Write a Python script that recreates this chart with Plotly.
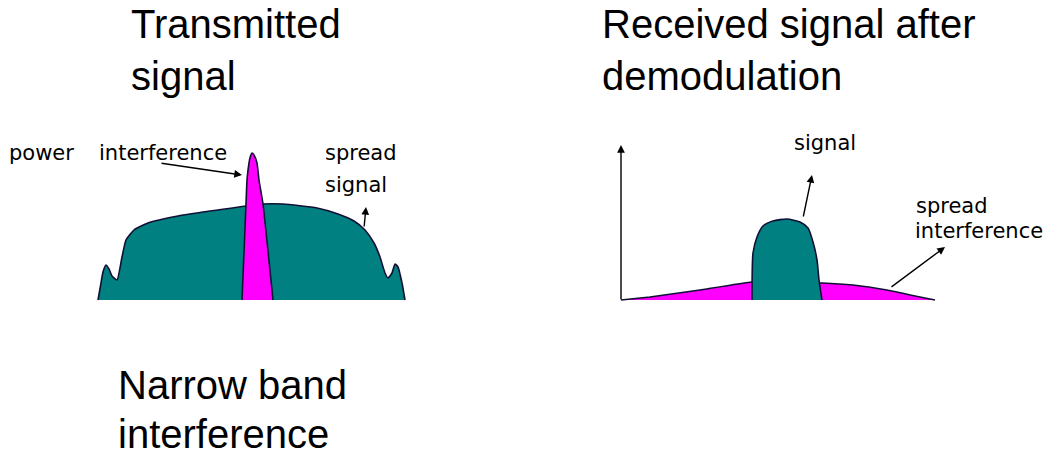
import plotly.graph_objects as go

W, H = 1048, 456

# ---- Left panel: transmitted spectrum (arbitrary frequency / power units) ----
tx_freq = [0, 3, 5, 8, 11, 14, 19, 24, 28, 36, 50, 80, 120, 165, 185, 219, 240,
           256, 267, 276, 282, 287, 290, 294, 297, 300, 304, 307]
tx_signal = [0, 17, 28, 35, 31, 24, 20, 43, 60, 70, 77, 84, 90, 96, 96, 92, 86,
             79, 70, 57, 43, 27, 22, 27, 36, 33, 17, 0]

nb_freq = [144, 148, 149, 151, 152.5, 154, 156, 159, 161, 165, 175]
nb_interf = [0, 96, 120, 137, 144, 147, 145, 137, 120, 96, 0]

# ---- Right panel: received spectrum after demodulation ----
rx_interf_freq = [0, 29, 79, 131, 201, 232, 266, 294, 314]
rx_interf = [0, 3, 10, 18, 17, 15, 10, 4, 0]

rx_sig_freq = [131, 132, 136, 142, 152, 166, 179, 187, 192, 196, 198, 201]
rx_signal = [0, 47, 63, 74, 79, 81, 78, 72, 58, 40, 20, 0]

TEAL = "#008080"
MAGENTA = "#FF00FF"
OUTLINE = "#101035"

fig = go.Figure()

def area(x, y, color, xa, ya, smooth=0.6):
    fig.add_trace(go.Scatter(
        x=x, y=y, mode="lines", fill="tozeroy", fillcolor=color,
        line=dict(color=OUTLINE, width=1.6, shape="spline", smoothing=smooth),
        xaxis=xa, yaxis=ya, hoverinfo="skip", showlegend=False))

area(tx_freq, tx_signal, TEAL, "x", "y", 0.5)
area(nb_freq, nb_interf, MAGENTA, "x", "y", 0.4)
area(rx_interf_freq, rx_interf, MAGENTA, "x2", "y2", 0.3)
area(rx_sig_freq, rx_signal, TEAL, "x2", "y2", 0.6)

# axes mapped so that the panels land where the reference draws them
ax_common = dict(visible=False, showgrid=False, zeroline=False, fixedrange=True)
fig.update_layout(
    xaxis=dict(domain=[0, 0.5], range=[-98, 426], **ax_common),
    yaxis=dict(domain=[0, 1], range=[-156, 300], **ax_common),
    xaxis2=dict(domain=[0.5, 1], range=[-97, 427], anchor="y2", **ax_common),
    yaxis2=dict(domain=[0, 1], range=[-156, 300], anchor="x2", **ax_common),
)

def arrow(xr, yr, tail, head):
    fig.add_annotation(xref=xr, yref=yr, axref=xr, ayref=yr,
                       x=head[0], y=head[1], ax=tail[0], ay=tail[1],
                       text="", showarrow=True, arrowhead=2, arrowsize=1.1,
                       arrowwidth=1.4, arrowcolor="#000000", standoff=0)

arrow("x", "y", (62, 137), (144, 125))       # interference
arrow("x", "y", (266, 72), (268, 93))        # spread signal
arrow("x2", "y2", (0, -1), (0, 155))         # power axis
arrow("x2", "y2", (182, 82), (191, 125))     # signal
arrow("x2", "y2", (269, 12), (324, 53))      # spread interference

def label(text, left_px, baseline_px, size, family, descent):
    fig.add_annotation(xref="paper", yref="paper",
                       x=(left_px - 2) / W,
                       y=(H - (baseline_px + 2 + descent * size)) / H,
                       xanchor="left", yanchor="bottom", showarrow=False,
                       text=text, font=dict(size=size, family=family, color="#000000"))

TF = "Liberation Sans, Arial, sans-serif"
SF = "DejaVu Sans, Verdana, sans-serif"
TD, SD = 0.212, 0.236

label("Transmitted", 131, 38, 40, TF, TD)
label("signal", 131, 90, 40, TF, TD)
label("Received signal after", 602, 38, 40, TF, TD)
label("demodulation", 602, 90, 40, TF, TD)
label("Narrow band", 118, 399, 40, TF, TD)
label("interference", 118, 448, 40, TF, TD)

label("power", 9, 160, 21, SF, SD)
label("interference", 99, 160, 21, SF, SD)
label("spread", 325, 160, 21, SF, SD)
label("signal", 325, 192, 21, SF, SD)
label("signal", 794, 150, 21, SF, SD)
label("spread", 916, 213, 21, SF, SD)
label("interference", 915, 238, 21, SF, SD)

fig.update_layout(width=W, height=H, margin=dict(l=0, r=0, t=0, b=0),
                  paper_bgcolor="white", plot_bgcolor="white")

fig.write_html("out.html", config={"displayModeBar": False},
               post_script="document.body.style.margin='0';")
